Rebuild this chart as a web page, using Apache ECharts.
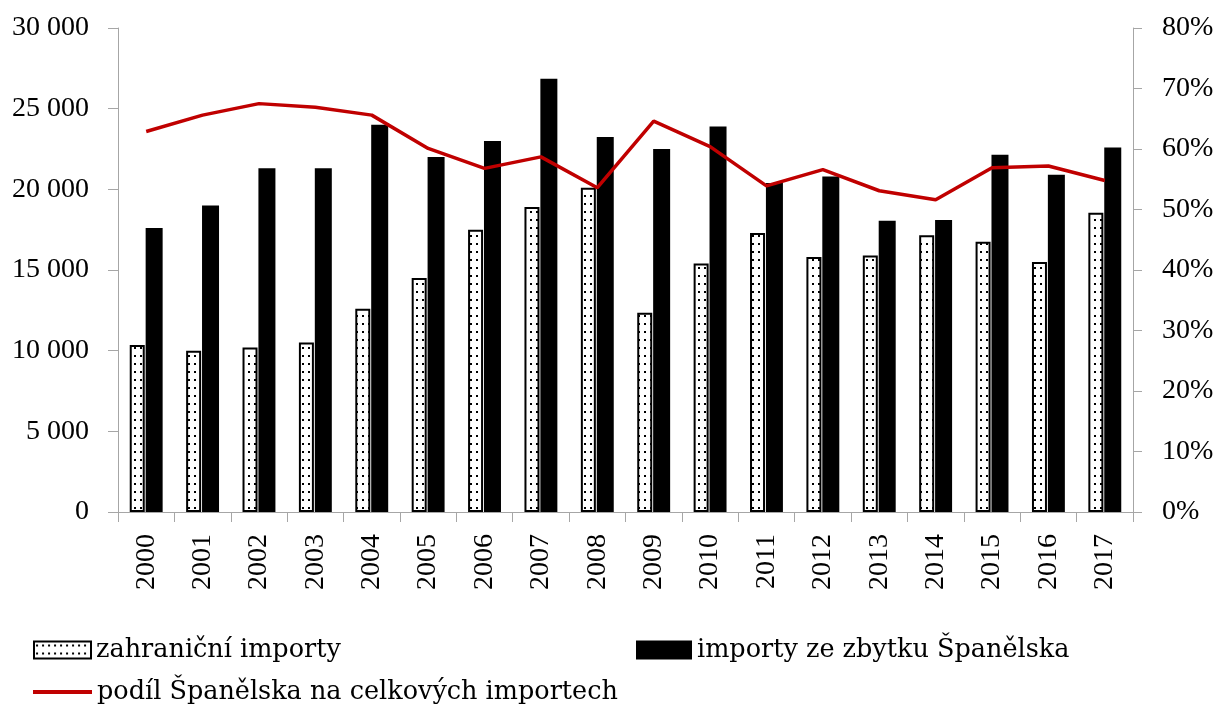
<!DOCTYPE html>
<html>
<head>
<meta charset="utf-8">
<script src="https://cdn.jsdelivr.net/npm/echarts@6/dist/echarts.min.js"></script>
<style>
  html, body { margin: 0; padding: 0; background: #fff; }
  #chart { width: 1219px; height: 709px; }
</style>
</head>
<body>
<div id="chart"></div>
<script>
const years = ['2000', '2001', '2002', '2003', '2004', '2005', '2006', '2007', '2008',
  '2009', '2010', '2011', '2012', '2013', '2014', '2015', '2016', '2017'];
const foreignImports = [10350, 10000, 10200, 10500, 12600, 14500, 17500, 18900, 20100,
  12350, 15400, 17300, 15800, 15900, 17150, 16750, 15500, 18550];
const restOfSpain = [17600, 19000, 21300, 21300, 24000, 22000, 23000, 26850, 23250,
  22500, 23900, 20400, 20800, 18050, 18100, 22150, 20900, 22600];
const spainShare = [62.9, 65.6, 67.5, 66.9, 65.6, 60.1, 56.8, 58.7, 53.6,
  64.6, 60.4, 53.9, 56.6, 53.1, 51.6, 56.9, 57.2, 54.8];

const seriesNames = ['zahraniční importy', 'importy ze zbytku Španělska',
  'podíl Španělska na celkových importech'];

const SERIF = 'Liberation Serif';
const WIDE_SERIF = 'DejaVu Serif';
const axisGrey = '#a6a6a6';

// small dotted fill for the first series
const dots = document.createElement('canvas');
dots.width = 6;
dots.height = 8;
const dctx = dots.getContext('2d');
dctx.fillStyle = '#fff';
dctx.fillRect(0, 0, 6, 8);
dctx.fillStyle = '#000';
dctx.fillRect(2, 3, 2, 2);

const chart = echarts.init(document.getElementById('chart'));

const legendText = { fontFamily: WIDE_SERIF, fontSize: 25.5, color: '#000' };

const option = {
  backgroundColor: '#fff',
  animation: false,
  grid: { left: 118, right: 86, top: 28, bottom: 197 },
  legend: [
    {
      data: [{ name: seriesNames[0], icon: 'rect' }],
      left: 33, top: 637, itemWidth: 57, itemHeight: 17,
      textStyle: legendText, padding: 0
    },
    {
      data: [{ name: seriesNames[1], icon: 'rect' }],
      left: 636, top: 637, itemWidth: 56, itemHeight: 19,
      textStyle: legendText, padding: 0
    },
    {
      data: [{ name: seriesNames[2], icon: 'rect' }],
      left: 33, top: 679, itemWidth: 59, itemHeight: 4,
      textStyle: legendText, padding: 0
    }
  ],
  xAxis: {
    type: 'category',
    data: years,
    axisLine: { lineStyle: { color: axisGrey, width: 1 } },
    axisTick: { show: true, length: 10, lineStyle: { color: axisGrey } },
    axisLabel: {
      rotate: 90, margin: 22, fontFamily: SERIF, fontSize: 28, color: '#000'
    }
  },
  yAxis: [
    {
      type: 'value', min: 0, max: 30000, interval: 5000,
      splitLine: { show: false },
      axisLine: { show: true, lineStyle: { color: axisGrey } },
      axisTick: { show: true, length: 10, lineStyle: { color: axisGrey } },
      axisLabel: {
        fontFamily: SERIF, fontSize: 28, color: '#000', margin: 29,
        formatter: v => String(v).replace(/\B(?=(\d{3})+(?!\d))/g, ' ')
      }
    },
    {
      type: 'value', min: 0, max: 80, interval: 10, position: 'right',
      splitLine: { show: false },
      axisLine: { show: true, lineStyle: { color: axisGrey } },
      axisTick: { show: true, length: 9, lineStyle: { color: axisGrey } },
      axisLabel: {
        fontFamily: SERIF, fontSize: 28, color: '#000', margin: 29,
        formatter: '{value}%'
      }
    }
  ],
  series: [
    {
      name: seriesNames[0],
      type: 'bar',
      data: foreignImports,
      barWidth: 15,
      barGap: '6%',
      itemStyle: {
        color: { image: dots, repeat: 'repeat' },
        borderColor: '#000',
        borderWidth: 2
      }
    },
    {
      name: seriesNames[1],
      type: 'bar',
      data: restOfSpain,
      barWidth: 17,
      itemStyle: { color: '#000' }
    },
    {
      name: seriesNames[2],
      type: 'line',
      yAxisIndex: 1,
      data: spainShare,
      showSymbol: false,
      symbol: 'none',
      lineStyle: { color: '#c00000', width: 3.5 },
      itemStyle: { color: '#c00000' }
    }
  ]
};

chart.setOption(option);
</script>
</body>
</html>
